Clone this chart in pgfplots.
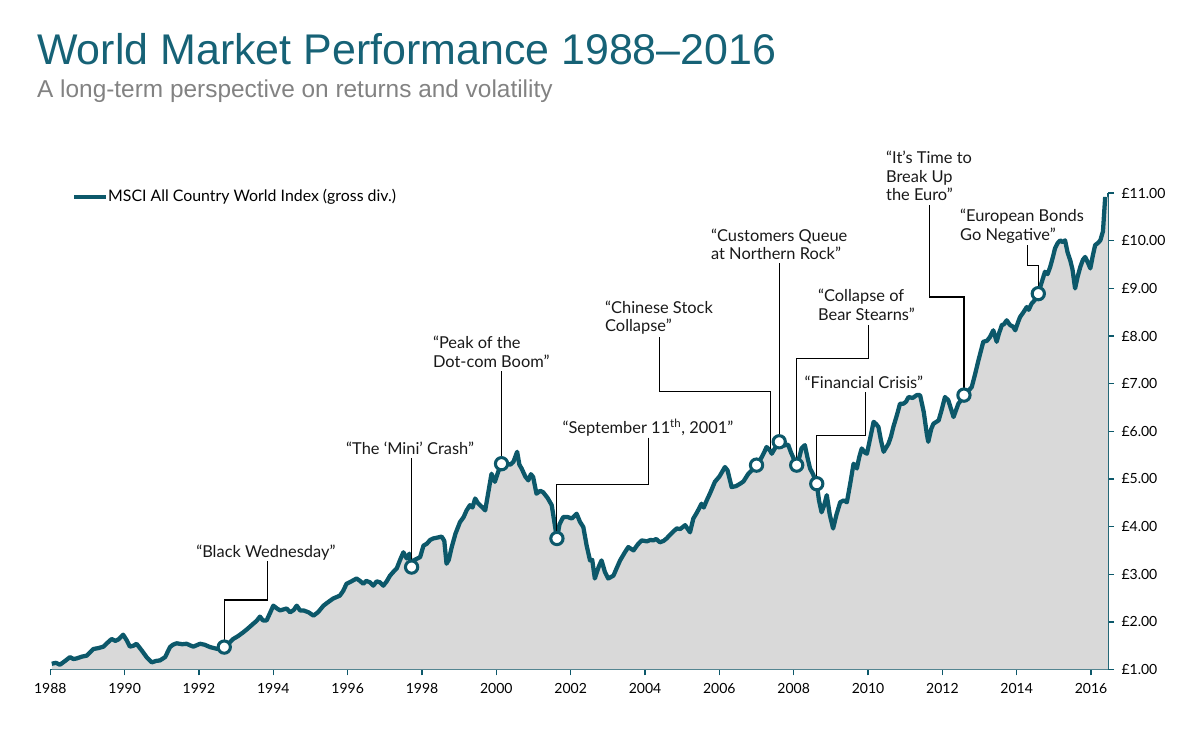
\documentclass[border=0pt]{standalone}
\usepackage{fontspec}
\setmainfont{Lato}
\newfontfamily\titlefont{Liberation Sans}
\usepackage{pgfplots}
\pgfplotsset{compat=1.18}

\definecolor{lineteal}{RGB}{12,88,106}
\definecolor{titleteal}{RGB}{22,98,118}
\definecolor{subgray}{RGB}{130,130,130}
\definecolor{areagray}{RGB}{217,217,217}

\begin{document}
\begin{tikzpicture}
\begin{axis}[
    scale only axis,
    width=793.3pt, height=357.2pt,
    xmin=1988, xmax=2016.46,
    ymin=1, ymax=11,
    clip=false,
    axis x line*=bottom,
    axis y line*=right,
    axis line style={draw=lineteal, line width=1.1pt},
    tick style={draw=lineteal, line width=1pt},
    tick align=outside,
    major tick length=4.5pt,
    xtick={1988,1990,1992,1994,1996,1998,2000,2002,2004,2006,2008,2010,2012,2014,2016},
    xticklabels={1988,1990,1992,1994,1996,1998,2000,2002,2004,2006,2008,2010,2012,2014,2016},
    ytick={1,2,3,4,5,6,7,8,9,10,11},
    yticklabels={£1.00,£2.00,£3.00,£4.00,£5.00,£6.00,£7.00,£8.00,£9.00,£10.00,£11.00},
    tick label style={font=\fontsize{10.5}{12}\selectfont},
    x tick label style={yshift=-2pt},
    y tick label style={xshift=2pt},
]

% index level
\addplot[fill=areagray, draw=none] coordinates {
(1988.04,1.12)(1988.15,1.14)(1988.26,1.10)(1988.40,1.18)(1988.53,1.26)(1988.62,1.22)(1988.70,1.23)(1988.85,1.27)
(1988.98,1.29)(1989.08,1.37)(1989.16,1.43)(1989.30,1.45)(1989.43,1.48)(1989.55,1.57)(1989.65,1.64)(1989.75,1.60)
(1989.83,1.63)(1989.96,1.73)(1990.05,1.62)(1990.14,1.48)(1990.24,1.50)(1990.32,1.54)(1990.46,1.40)(1990.60,1.25)
(1990.73,1.15)(1990.85,1.18)(1990.95,1.19)(1991.09,1.26)(1991.22,1.47)(1991.30,1.52)(1991.40,1.55)(1991.55,1.53)
(1991.67,1.54)(1991.75,1.51)(1991.85,1.48)(1992.03,1.54)(1992.15,1.52)(1992.30,1.47)(1992.50,1.43)(1992.68,1.47)
(1992.80,1.55)(1992.92,1.64)(1993.05,1.70)(1993.19,1.78)(1993.30,1.85)(1993.46,1.96)(1993.55,2.02)(1993.64,2.11)
(1993.72,2.03)(1993.82,2.03)(1993.92,2.20)(1994.00,2.34)(1994.10,2.28)(1994.18,2.24)(1994.27,2.26)(1994.36,2.28)
(1994.45,2.20)(1994.55,2.25)(1994.63,2.34)(1994.72,2.24)(1994.81,2.24)(1994.95,2.20)(1995.08,2.13)(1995.20,2.20)
(1995.35,2.34)(1995.45,2.40)(1995.61,2.49)(1995.70,2.52)(1995.79,2.55)(1995.88,2.65)(1995.97,2.80)(1996.10,2.85)
(1996.24,2.91)(1996.33,2.86)(1996.42,2.80)(1996.50,2.86)(1996.60,2.83)(1996.69,2.76)(1996.78,2.85)(1996.87,2.83)
(1996.96,2.76)(1997.05,2.85)(1997.14,2.97)(1997.23,3.05)(1997.32,3.12)(1997.41,3.30)(1997.50,3.46)(1997.59,3.33)
(1997.66,3.43)(1997.72,3.15)(1997.80,3.30)(1997.95,3.36)(1998.04,3.60)(1998.13,3.64)(1998.22,3.72)(1998.30,3.75)
(1998.42,3.77)(1998.53,3.79)(1998.60,3.70)(1998.66,3.22)(1998.72,3.30)(1998.80,3.57)(1998.90,3.85)(1999.02,4.09)
(1999.12,4.20)(1999.20,4.34)(1999.29,4.45)(1999.36,4.40)(1999.43,4.59)(1999.50,4.50)(1999.56,4.45)(1999.63,4.40)
(1999.70,4.34)(1999.78,4.70)(1999.87,5.11)(1999.96,4.94)(2000.05,5.15)(2000.14,5.32)(2000.22,5.25)(2000.28,5.32)
(2000.38,5.30)(2000.46,5.36)(2000.56,5.57)(2000.62,5.30)(2000.68,5.22)(2000.78,5.05)(2000.86,4.97)(2000.93,5.10)
(2000.99,5.04)(2001.08,4.69)(2001.18,4.75)(2001.26,4.72)(2001.38,4.60)(2001.49,4.45)(2001.56,4.10)(2001.63,3.75)
(2001.70,4.05)(2001.80,4.20)(2001.92,4.20)(2002.03,4.17)(2002.16,4.27)(2002.25,4.10)(2002.34,3.99)(2002.43,3.60)
(2002.52,3.29)(2002.58,3.30)(2002.65,2.91)(2002.75,3.15)(2002.83,3.29)(2002.92,3.05)(2003.01,2.91)(2003.15,2.97)
(2003.25,3.15)(2003.33,3.29)(2003.45,3.45)(2003.55,3.57)(2003.69,3.50)(2003.80,3.62)(2003.91,3.71)(2004.05,3.69)
(2004.15,3.72)(2004.22,3.71)(2004.30,3.74)(2004.40,3.67)(2004.50,3.70)(2004.58,3.75)(2004.70,3.85)(2004.85,3.96)
(2004.95,3.95)(2005.08,4.03)(2005.21,3.88)(2005.30,4.17)(2005.40,4.30)(2005.52,4.48)(2005.58,4.40)(2005.66,4.55)
(2005.75,4.70)(2005.88,4.94)(2006.00,5.05)(2006.15,5.25)(2006.22,5.18)(2006.33,4.83)(2006.45,4.85)(2006.56,4.90)
(2006.65,4.95)(2006.78,5.11)(2006.90,5.20)(2007.00,5.29)(2007.10,5.40)(2007.20,5.55)(2007.27,5.67)(2007.36,5.60)
(2007.41,5.53)(2007.50,5.65)(2007.61,5.78)(2007.72,5.70)(2007.85,5.72)(2007.93,5.55)(2008.08,5.29)(2008.15,5.45)
(2008.21,5.64)(2008.30,5.71)(2008.37,5.45)(2008.44,5.22)(2008.52,5.10)(2008.62,4.90)(2008.68,4.55)(2008.75,4.30)
(2008.82,4.45)(2008.89,4.66)(2008.97,4.25)(2009.06,3.96)(2009.15,4.25)(2009.25,4.51)(2009.35,4.55)(2009.43,4.51)
(2009.52,4.90)(2009.61,5.32)(2009.70,5.22)(2009.76,5.45)(2009.83,5.64)(2009.92,5.55)(2009.97,5.53)(2010.07,5.90)
(2010.15,6.20)(2010.22,6.15)(2010.28,6.09)(2010.35,5.80)(2010.42,5.57)(2010.48,5.65)(2010.55,5.74)(2010.62,5.90)
(2010.68,6.09)(2010.78,6.35)(2010.86,6.58)(2010.95,6.58)(2011.02,6.62)(2011.09,6.72)(2011.20,6.70)(2011.31,6.76)
(2011.40,6.76)(2011.50,6.40)(2011.58,5.95)(2011.62,5.78)(2011.70,6.05)(2011.76,6.16)(2011.90,6.23)(2011.98,6.45)
(2012.07,6.72)(2012.16,6.65)(2012.22,6.50)(2012.30,6.30)(2012.37,6.45)(2012.43,6.58)(2012.50,6.65)(2012.58,6.76)
(2012.70,6.85)(2012.79,6.93)(2012.88,7.20)(2012.97,7.49)(2013.04,7.70)(2013.10,7.88)(2013.20,7.90)(2013.28,7.98)
(2013.37,8.12)(2013.46,7.88)(2013.52,8.05)(2013.60,8.23)(2013.66,8.25)(2013.73,8.33)(2013.82,8.23)(2013.90,8.20)
(2013.96,8.12)(2014.04,8.30)(2014.09,8.40)(2014.18,8.50)(2014.27,8.61)(2014.32,8.55)(2014.40,8.68)(2014.48,8.75)
(2014.58,8.89)(2014.66,9.10)(2014.76,9.35)(2014.83,9.30)(2014.90,9.45)(2014.97,9.65)(2015.03,9.84)(2015.10,9.95)
(2015.17,10.01)(2015.24,9.97)(2015.30,10.01)(2015.37,9.75)(2015.44,9.59)(2015.50,9.40)(2015.57,9.00)(2015.64,9.25)
(2015.71,9.45)(2015.78,9.60)(2015.84,9.66)(2015.91,9.55)(2015.98,9.42)(2016.05,9.70)(2016.11,9.91)(2016.18,9.95)
(2016.25,10.01)(2016.32,10.20)(2016.38,10.92)(2016.46,10.92)
} \closedcycle;

\addplot[draw=lineteal, line width=3.2pt, line join=round] coordinates {
(1988.04,1.12)(1988.15,1.14)(1988.26,1.10)(1988.40,1.18)(1988.53,1.26)(1988.62,1.22)(1988.70,1.23)(1988.85,1.27)
(1988.98,1.29)(1989.08,1.37)(1989.16,1.43)(1989.30,1.45)(1989.43,1.48)(1989.55,1.57)(1989.65,1.64)(1989.75,1.60)
(1989.83,1.63)(1989.96,1.73)(1990.05,1.62)(1990.14,1.48)(1990.24,1.50)(1990.32,1.54)(1990.46,1.40)(1990.60,1.25)
(1990.73,1.15)(1990.85,1.18)(1990.95,1.19)(1991.09,1.26)(1991.22,1.47)(1991.30,1.52)(1991.40,1.55)(1991.55,1.53)
(1991.67,1.54)(1991.75,1.51)(1991.85,1.48)(1992.03,1.54)(1992.15,1.52)(1992.30,1.47)(1992.50,1.43)(1992.68,1.47)
(1992.80,1.55)(1992.92,1.64)(1993.05,1.70)(1993.19,1.78)(1993.30,1.85)(1993.46,1.96)(1993.55,2.02)(1993.64,2.11)
(1993.72,2.03)(1993.82,2.03)(1993.92,2.20)(1994.00,2.34)(1994.10,2.28)(1994.18,2.24)(1994.27,2.26)(1994.36,2.28)
(1994.45,2.20)(1994.55,2.25)(1994.63,2.34)(1994.72,2.24)(1994.81,2.24)(1994.95,2.20)(1995.08,2.13)(1995.20,2.20)
(1995.35,2.34)(1995.45,2.40)(1995.61,2.49)(1995.70,2.52)(1995.79,2.55)(1995.88,2.65)(1995.97,2.80)(1996.10,2.85)
(1996.24,2.91)(1996.33,2.86)(1996.42,2.80)(1996.50,2.86)(1996.60,2.83)(1996.69,2.76)(1996.78,2.85)(1996.87,2.83)
(1996.96,2.76)(1997.05,2.85)(1997.14,2.97)(1997.23,3.05)(1997.32,3.12)(1997.41,3.30)(1997.50,3.46)(1997.59,3.33)
(1997.66,3.43)(1997.72,3.15)(1997.80,3.30)(1997.95,3.36)(1998.04,3.60)(1998.13,3.64)(1998.22,3.72)(1998.30,3.75)
(1998.42,3.77)(1998.53,3.79)(1998.60,3.70)(1998.66,3.22)(1998.72,3.30)(1998.80,3.57)(1998.90,3.85)(1999.02,4.09)
(1999.12,4.20)(1999.20,4.34)(1999.29,4.45)(1999.36,4.40)(1999.43,4.59)(1999.50,4.50)(1999.56,4.45)(1999.63,4.40)
(1999.70,4.34)(1999.78,4.70)(1999.87,5.11)(1999.96,4.94)(2000.05,5.15)(2000.14,5.32)(2000.22,5.25)(2000.28,5.32)
(2000.38,5.30)(2000.46,5.36)(2000.56,5.57)(2000.62,5.30)(2000.68,5.22)(2000.78,5.05)(2000.86,4.97)(2000.93,5.10)
(2000.99,5.04)(2001.08,4.69)(2001.18,4.75)(2001.26,4.72)(2001.38,4.60)(2001.49,4.45)(2001.56,4.10)(2001.63,3.75)
(2001.70,4.05)(2001.80,4.20)(2001.92,4.20)(2002.03,4.17)(2002.16,4.27)(2002.25,4.10)(2002.34,3.99)(2002.43,3.60)
(2002.52,3.29)(2002.58,3.30)(2002.65,2.91)(2002.75,3.15)(2002.83,3.29)(2002.92,3.05)(2003.01,2.91)(2003.15,2.97)
(2003.25,3.15)(2003.33,3.29)(2003.45,3.45)(2003.55,3.57)(2003.69,3.50)(2003.80,3.62)(2003.91,3.71)(2004.05,3.69)
(2004.15,3.72)(2004.22,3.71)(2004.30,3.74)(2004.40,3.67)(2004.50,3.70)(2004.58,3.75)(2004.70,3.85)(2004.85,3.96)
(2004.95,3.95)(2005.08,4.03)(2005.21,3.88)(2005.30,4.17)(2005.40,4.30)(2005.52,4.48)(2005.58,4.40)(2005.66,4.55)
(2005.75,4.70)(2005.88,4.94)(2006.00,5.05)(2006.15,5.25)(2006.22,5.18)(2006.33,4.83)(2006.45,4.85)(2006.56,4.90)
(2006.65,4.95)(2006.78,5.11)(2006.90,5.20)(2007.00,5.29)(2007.10,5.40)(2007.20,5.55)(2007.27,5.67)(2007.36,5.60)
(2007.41,5.53)(2007.50,5.65)(2007.61,5.78)(2007.72,5.70)(2007.85,5.72)(2007.93,5.55)(2008.08,5.29)(2008.15,5.45)
(2008.21,5.64)(2008.30,5.71)(2008.37,5.45)(2008.44,5.22)(2008.52,5.10)(2008.62,4.90)(2008.68,4.55)(2008.75,4.30)
(2008.82,4.45)(2008.89,4.66)(2008.97,4.25)(2009.06,3.96)(2009.15,4.25)(2009.25,4.51)(2009.35,4.55)(2009.43,4.51)
(2009.52,4.90)(2009.61,5.32)(2009.70,5.22)(2009.76,5.45)(2009.83,5.64)(2009.92,5.55)(2009.97,5.53)(2010.07,5.90)
(2010.15,6.20)(2010.22,6.15)(2010.28,6.09)(2010.35,5.80)(2010.42,5.57)(2010.48,5.65)(2010.55,5.74)(2010.62,5.90)
(2010.68,6.09)(2010.78,6.35)(2010.86,6.58)(2010.95,6.58)(2011.02,6.62)(2011.09,6.72)(2011.20,6.70)(2011.31,6.76)
(2011.40,6.76)(2011.50,6.40)(2011.58,5.95)(2011.62,5.78)(2011.70,6.05)(2011.76,6.16)(2011.90,6.23)(2011.98,6.45)
(2012.07,6.72)(2012.16,6.65)(2012.22,6.50)(2012.30,6.30)(2012.37,6.45)(2012.43,6.58)(2012.50,6.65)(2012.58,6.76)
(2012.70,6.85)(2012.79,6.93)(2012.88,7.20)(2012.97,7.49)(2013.04,7.70)(2013.10,7.88)(2013.20,7.90)(2013.28,7.98)
(2013.37,8.12)(2013.46,7.88)(2013.52,8.05)(2013.60,8.23)(2013.66,8.25)(2013.73,8.33)(2013.82,8.23)(2013.90,8.20)
(2013.96,8.12)(2014.04,8.30)(2014.09,8.40)(2014.18,8.50)(2014.27,8.61)(2014.32,8.55)(2014.40,8.68)(2014.48,8.75)
(2014.58,8.89)(2014.66,9.10)(2014.76,9.35)(2014.83,9.30)(2014.90,9.45)(2014.97,9.65)(2015.03,9.84)(2015.10,9.95)
(2015.17,10.01)(2015.24,9.97)(2015.30,10.01)(2015.37,9.75)(2015.44,9.59)(2015.50,9.40)(2015.57,9.00)(2015.64,9.25)
(2015.71,9.45)(2015.78,9.60)(2015.84,9.66)(2015.91,9.55)(2015.98,9.42)(2016.05,9.70)(2016.11,9.91)(2016.18,9.95)
(2016.25,10.01)(2016.32,10.20)(2016.38,10.92)
};

% callout lines
\begin{scope}[black, line width=0.85pt]
\draw (axis cs:1993.85,3.27) -- (axis cs:1993.85,2.46) -- (axis cs:1992.68,2.46) -- (axis cs:1992.68,1.47);
\draw (axis cs:1997.72,5.43) -- (axis cs:1997.72,3.15);
\draw (axis cs:2000.14,7.26) -- (axis cs:2000.14,5.32);
\draw (axis cs:2004.09,5.87) -- (axis cs:2004.09,4.89) -- (axis cs:2001.63,4.89) -- (axis cs:2001.63,3.75);
\draw (axis cs:2004.38,7.97) -- (axis cs:2004.38,6.83) -- (axis cs:2007.38,6.83) -- (axis cs:2007.38,5.62);
\draw (axis cs:2007.61,9.53) -- (axis cs:2007.61,5.78);
\draw (axis cs:2010.01,8.23) -- (axis cs:2010.01,7.53) -- (axis cs:2008.08,7.53) -- (axis cs:2008.08,5.29);
\draw (axis cs:2009.94,6.82) -- (axis cs:2009.94,5.92) -- (axis cs:2008.62,5.92) -- (axis cs:2008.62,4.90);
\draw (axis cs:2011.65,10.75) -- (axis cs:2011.65,8.82) -- (axis cs:2012.58,8.82) -- (axis cs:2012.58,6.76);
\draw (axis cs:2014.28,9.91) -- (axis cs:2014.28,9.49) -- (axis cs:2014.58,9.49) -- (axis cs:2014.58,8.89);
\end{scope}

% event markers
\addplot[only marks, mark=*, mark size=4.6pt,
    mark options={fill=white, draw=lineteal, line width=2.3pt}] coordinates {
(1992.68,1.47)(1997.72,3.15)(2000.14,5.32)(2001.63,3.75)(2007.00,5.29)
(2007.61,5.78)(2008.08,5.29)(2008.62,4.90)(2012.58,6.76)(2014.58,8.89)
};

% event labels
\begin{scope}[every node/.style={inner sep=0pt, font=\fontsize{12.3}{14}\selectfont, text=black!90}]
\node[anchor=base] at (axis cs:1993.80,3.35) {“Black Wednesday”};
\node[anchor=base] at (axis cs:1997.68,5.52) {“The ‘Mini’ Crash”};
\node[anchor=base west] at (axis cs:1998.29,7.74) {“Peak of the};
\node[anchor=base west] at (axis cs:1998.29,7.34) {Dot-com Boom”};
\node[anchor=base] at (axis cs:2004.08,5.96) {“September 11\textsuperscript{th}, 2001”};
\node[anchor=base west] at (axis cs:2002.92,8.48) {“Chinese Stock};
\node[anchor=base west] at (axis cs:2002.92,8.10) {Collapse”};
\node[anchor=base west] at (axis cs:2005.77,9.99) {“Customers Queue};
\node[anchor=base west] at (axis cs:2005.77,9.61) {at Northern Rock”};
\node[anchor=base west] at (axis cs:2008.65,8.73) {“Collapse of};
\node[anchor=base west] at (axis cs:2008.65,8.33) {Bear Stearns”};
\node[anchor=base] at (axis cs:2009.89,6.90) {“Financial Crisis”};
\node[anchor=base west] at (axis cs:2010.48,11.63) {“It’s Time to};
\node[anchor=base west] at (axis cs:2010.48,11.23) {Break Up};
\node[anchor=base west] at (axis cs:2010.48,10.85) {the Euro”};
\node[anchor=base west] at (axis cs:2012.47,10.41) {“European Bonds};
\node[anchor=base west] at (axis cs:2012.47,10.01) {Go Negative”};
\end{scope}

% legend
\draw[lineteal, line width=3pt] (axis cs:1988.64,10.92) -- (axis cs:1989.50,10.92);
\node[anchor=west, inner sep=0pt, font=\fontsize{11.9}{14}\selectfont] at (axis cs:1989.55,10.92) {MSCI All Country World Index (gross div.)};

% title and subtitle
\node[anchor=base west, inner sep=0pt, text=titleteal, font=\titlefont\fontsize{32.2}{38}\selectfont] at (axis cs:1987.64,13.71) {World Market Performance 1988–2016};
\node[anchor=base west, inner sep=0pt, text=subgray, font=\titlefont\fontsize{18.3}{22}\selectfont] at (axis cs:1987.64,13.00) {A long-term perspective on returns and volatility};

% page frame
\path (axis cs:1986.647,-0.3025) rectangle (axis cs:2018.527,15.055);
\end{axis}
\end{tikzpicture}
\end{document}
